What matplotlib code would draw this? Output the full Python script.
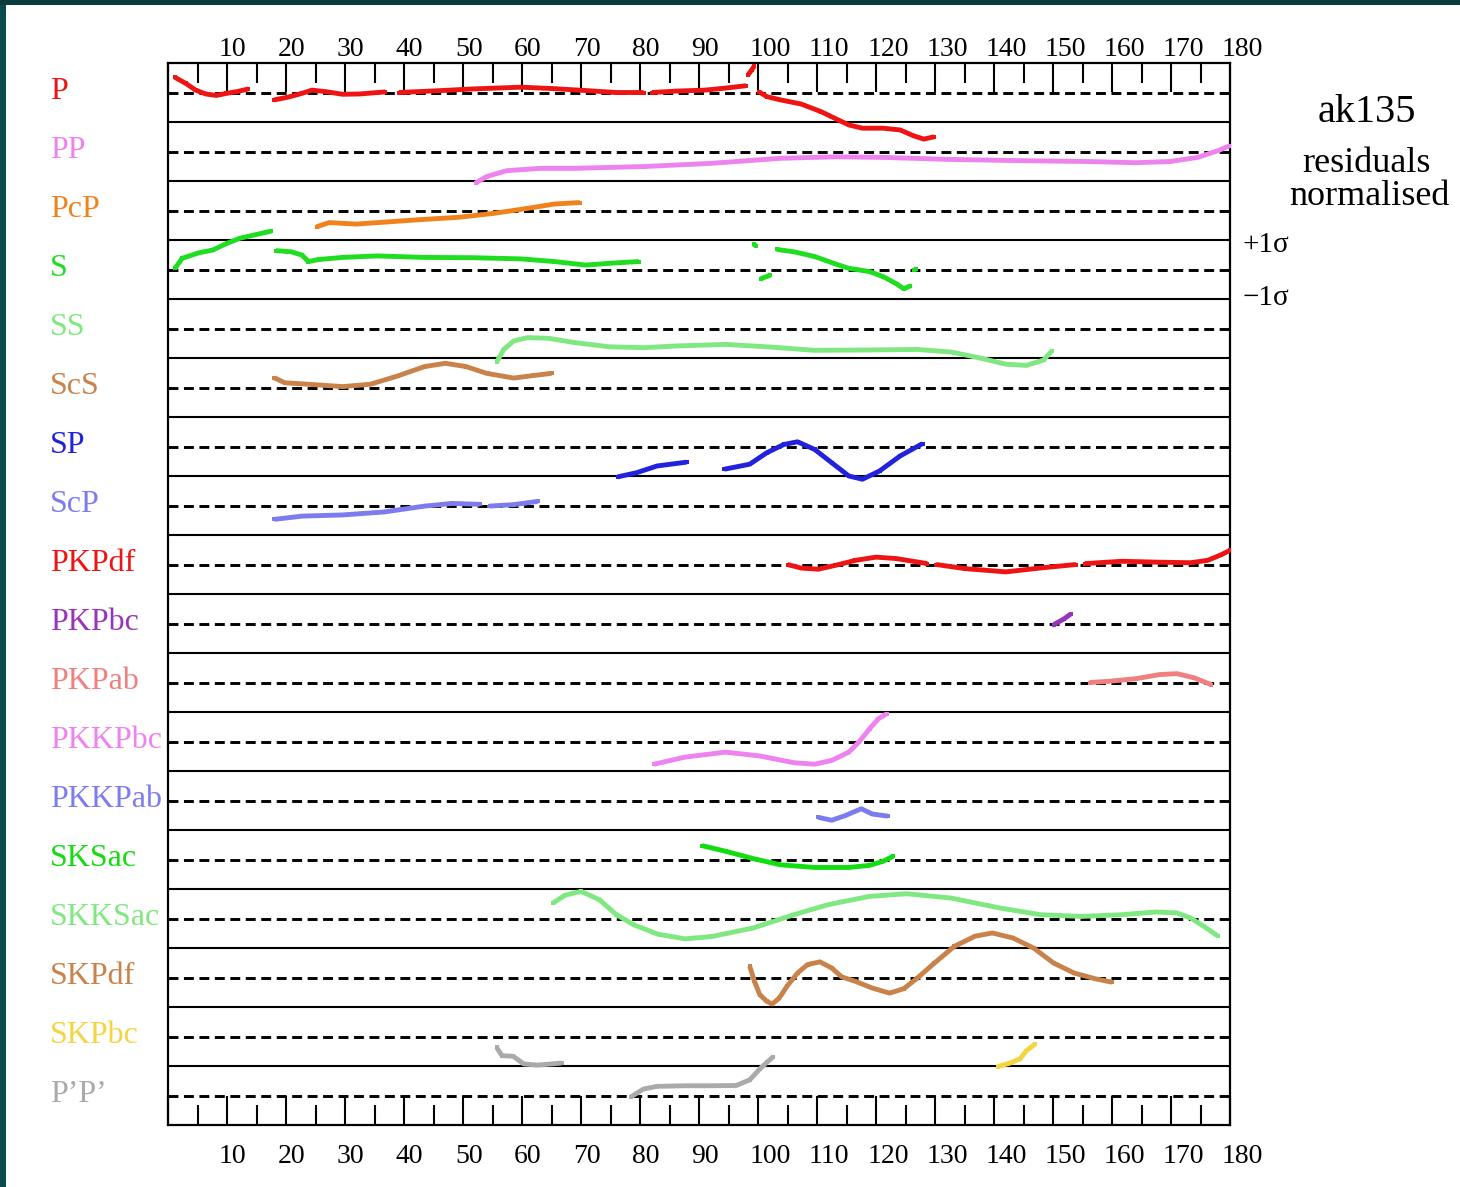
import numpy as np
import matplotlib
matplotlib.use("Agg")
import matplotlib.pyplot as plt
from matplotlib import transforms
from matplotlib.ticker import MultipleLocator, NullFormatter
from matplotlib.patches import Rectangle

nan = np.nan

phases = ["P", "PP", "PcP", "S", "SS", "ScS", "SP", "ScP", "PKPdf", "PKPbc",
          "PKPab", "PKKPbc", "PKKPab", "SKSac", "SKKSac", "SKPdf", "SKPbc", "P’P’"]
phase_colors = ["#ee1414", "#ee82ee", "#f0821e", "#1fdd1f", "#80e880", "#c8824a",
                "#2222dd", "#7c7cee", "#ee1414", "#9933bb", "#f08080", "#ee82ee",
                "#7c7cee", "#11dd11", "#80e880", "#c8824a", "#f5d442", "#aaaaaa"]

# Epicentral distance (deg) and normalised travel-time residual (sigma); nan splits branches
p_dist = [1.2, 3.0, 4.7, 6.4, 8.2, 9.9, 11.7, 13.6, nan,
          18.0, 20.3, 22.7, 24.4, 26.7, 29.6, 32.5, 36.8, nan,
          39.1, 45.8, 51.6, 59.8, 65.5, 71.3, 76.0, 80.6, nan,
          82.0, 86.4, 91.0, 94.5, 98.0, nan,
          98.3, 98.9, 99.4, nan,
          100.1, 101.5, 103.8, 107.3, 110.7, 113.6, 115.4, 117.7, 121.2, 124.1, 126.4, 128.1, 129.9]
p_res = [0.51, 0.31, 0.08, -0.05, -0.10, -0.03, 0.03, 0.12, nan,
         -0.25, -0.16, -0.03, 0.08, 0.03, -0.06, -0.05, 0.02, nan,
         0.0, 0.06, 0.12, 0.18, 0.13, 0.06, 0.0, 0.0, nan,
         0.0, 0.05, 0.08, 0.15, 0.23, nan,
         0.59, 0.76, 0.90, nan,
         0.03, -0.14, -0.25, -0.39, -0.65, -0.93, -1.10, -1.21, -1.21, -1.27, -1.47, -1.58, -1.50]

pp_dist = [52.2, 54.0, 57.4, 63.2, 69.0, 80.6, 92.2, 103.8, 113.1, 121.2, 132.8, 144.4,
           155.9, 164.0, 169.8, 174.5, 178.0, 180.0]
pp_res = [-1.06, -0.85, -0.65, -0.57, -0.57, -0.51, -0.40, -0.23, -0.18, -0.20, -0.27, -0.31,
          -0.34, -0.38, -0.34, -0.20, 0.03, 0.20]

pcp_dist = [25.2, 27.3, 31.9, 37.7, 43.5, 49.3, 55.1, 60.9, 65.5, 69.8]
pcp_res = [-0.55, -0.41, -0.46, -0.38, -0.30, -0.23, -0.10, 0.07, 0.22, 0.27]

s_dist = [1.2, 2.4, 5.3, 7.6, 9.9, 12.2, 14.6, 17.5, nan,
          18.3, 20.9, 22.7, 23.8, 25.6, 29.6, 35.4, 43.5, 51.6, 59.8, 65.5, 70.8, 74.8, 79.8, nan,
          99.3, 99.6, nan,
          100.5, 102.1, nan,
          103.2, 106.1, 109.6, 113.1, 115.4, 118.9, 121.2, 123.5, 124.7, 125.8, nan,
          126.5, 126.8]
s_res = [0.04, 0.38, 0.57, 0.66, 0.88, 1.06, 1.17, 1.30, nan,
         0.64, 0.60, 0.49, 0.27, 0.34, 0.41, 0.46, 0.41, 0.40, 0.36, 0.27, 0.15, 0.21, 0.27, nan,
         0.85, 0.81, nan,
         -0.31, -0.19, nan,
         0.68, 0.60, 0.44, 0.19, 0.04, -0.07, -0.24, -0.49, -0.65, -0.56, nan,
         -0.02, 0.02]

ss_dist = [55.7, 56.9, 58.6, 60.9, 64.4, 69.0, 74.8, 80.6, 86.4, 94.5, 101.5, 109.6, 117.7,
           127.0, 132.8, 137.4, 142.0, 145.5, 148.4, 149.8]
ss_res = [-1.14, -0.71, -0.42, -0.31, -0.33, -0.48, -0.62, -0.65, -0.59, -0.54, -0.62, -0.74,
          -0.73, -0.71, -0.80, -0.99, -1.21, -1.25, -1.07, -0.76]

scs_dist = [18.0, 19.8, 23.8, 29.6, 34.3, 38.9, 43.5, 47.0, 50.5, 54.0, 58.6, 62.1, 65.0]
scs_res = [0.33, 0.16, 0.11, 0.03, 0.11, 0.39, 0.71, 0.82, 0.71, 0.48, 0.32, 0.41, 0.48]

sp_dist = [76.2, 79.4, 82.9, 87.9, nan,
           94.3, 98.6, 101.5, 104.4, 106.7, 109.6, 112.5, 115.4, 117.7, 120.6, 124.1, 127.9]
sp_res = [-1.03, -0.89, -0.66, -0.53, nan,
          -0.77, -0.60, -0.21, 0.07, 0.16, -0.10, -0.55, -1.00, -1.11, -0.83, -0.32, 0.10]

scp_dist = [18.0, 22.7, 29.6, 36.6, 43.5, 48.2, 52.8, nan, 54.5, 58.6, 62.7]
scp_res = [-0.47, -0.36, -0.32, -0.22, -0.02, 0.07, 0.04, nan, -0.02, 0.03, 0.14]

pkpdf_dist = [105.0, 107.3, 110.2, 113.1, 116.5, 120.0, 123.5, 128.7, nan,
              130.2, 135.1, 142.0, 147.8, 153.9, nan,
              155.4, 161.7, 167.5, 173.3, 176.2, 178.5, 180.0]
pkpdf_res = [0.0, -0.12, -0.16, -0.03, 0.14, 0.25, 0.20, 0.03, nan,
             0.0, -0.14, -0.25, -0.12, 0.0, nan,
             0.03, 0.11, 0.08, 0.06, 0.14, 0.33, 0.48]

pkpbc_dist = [150.1, 151.9, 153.0]
pkpbc_res = [-0.04, 0.16, 0.32]

pkpab_dist = [156.2, 159.4, 164.1, 168.1, 171.0, 173.9, 176.8]
pkpab_res = [0.0, 0.04, 0.13, 0.27, 0.30, 0.16, -0.07]

pkkpbc_dist = [82.4, 87.6, 94.5, 100.3, 106.1, 109.6, 112.5, 115.4, 117.1, 118.9, 120.4, 121.8]
pkkpbc_res = [-0.77, -0.53, -0.36, -0.49, -0.72, -0.77, -0.64, -0.36, -0.02, 0.43, 0.77, 0.94]

pkkpab_dist = [110.2, 112.5, 114.8, 117.5, 119.4, 122.0]
pkkpab_res = [-0.57, -0.67, -0.51, -0.28, -0.46, -0.53]

sksac_dist = [90.5, 94.5, 99.2, 103.8, 109.6, 115.4, 118.9, 121.2, 122.9]
sksac_res = [0.47, 0.28, 0.03, -0.18, -0.27, -0.27, -0.20, -0.06, 0.11]

skksac_dist = [65.3, 67.3, 70.0, 73.1, 76.0, 78.9, 83.0, 87.6, 92.2, 99.2, 106.1, 111.9,
               118.9, 125.2, 132.8, 140.9, 147.8, 154.8, 161.7, 167.5, 171.0, 173.3, 175.6, 178.0]
skksac_res = [0.53, 0.79, 0.92, 0.64, 0.13, -0.21, -0.53, -0.69, -0.61, -0.32, 0.13, 0.47,
              0.75, 0.84, 0.69, 0.36, 0.13, 0.07, 0.13, 0.22, 0.19, 0.02, -0.27, -0.60]

skpdf_dist = [98.6, 99.4, 100.3, 101.5, 102.4, 103.6, 104.9, 106.7, 108.4, 110.5, 112.5,
              114.2, 116.5, 119.4, 122.3, 124.7, 127.0, 129.9, 133.3, 136.8, 139.7, 143.2,
              146.7, 150.1, 153.6, 157.1, 160.0]
skpdf_res = [0.38, -0.13, -0.58, -0.81, -0.90, -0.70, -0.30, 0.15, 0.44, 0.53, 0.32,
             0.02, -0.13, -0.36, -0.53, -0.38, -0.02, 0.49, 1.06, 1.40, 1.51, 1.34,
             1.00, 0.49, 0.15, -0.04, -0.16]

skpbc_dist = [140.6, 142.6, 144.4, 145.5, 147.0]
skpbc_res = [-1.02, -0.91, -0.76, -0.48, -0.25]

pprime_dist = [55.7, 56.6, 58.5, 60.3, 62.6, 65.0, 66.7, nan,
               78.5, 80.6, 82.9, 87.6, 92.2, 96.3, 98.6, 100.3, 101.5, 102.6]
pprime_res = [1.63, 1.35, 1.33, 1.07, 1.03, 1.07, 1.10, nan,
              -0.04, 0.22, 0.31, 0.33, 0.33, 0.34, 0.53, 0.90, 1.12, 1.32]

curves = [(p_dist, p_res), (pp_dist, pp_res), (pcp_dist, pcp_res), (s_dist, s_res),
          (ss_dist, ss_res), (scs_dist, scs_res), (sp_dist, sp_res), (scp_dist, scp_res),
          (pkpdf_dist, pkpdf_res), (pkpbc_dist, pkpbc_res), (pkpab_dist, pkpab_res),
          (pkkpbc_dist, pkkpbc_res), (pkkpab_dist, pkkpab_res), (sksac_dist, sksac_res),
          (skksac_dist, skksac_res), (skpdf_dist, skpdf_res), (skpbc_dist, skpbc_res),
          (pprime_dist, pprime_res)]

distance_ticks = list(range(10, 181, 10))

SERIF = ["Liberation Serif", "DejaVu Serif"]
W, H = 1460, 1187
fig = plt.figure(figsize=(W / 100, H / 100), dpi=100, facecolor="white")

# dark frame along the left and top edges
fig.patches.append(Rectangle((0, 0), 6 / W, 1, transform=fig.transFigure,
                             facecolor="#0b4b4b", edgecolor="none", zorder=0))
fig.patches.append(Rectangle((0, 1 - 5 / H), 1, 5 / H, transform=fig.transFigure,
                             facecolor="#0b3c3c", edgecolor="none", zorder=0))

left, right, top, bottom = 168, 1230, 63, 1125
ax = fig.add_axes([left / W, 1 - bottom / H, (right - left) / W, (bottom - top) / H])
n = len(phases)
ax.set_xlim(0, 180)
ax.set_ylim(-2 * (n - 1) - 1, 1)

# zero lines (dashed) and ±1 sigma row separators (solid)
for i in range(n):
    ax.axhline(-2 * i, color="black", lw=2.1, dashes=(3.4, 1.9), zorder=1)
    if i < n - 1:
        ax.axhline(-2 * i - 1, color="black", lw=1.5, zorder=1)

for i, ((d, r), col) in enumerate(zip(curves, phase_colors)):
    d = np.asarray(d, dtype=float)
    r = np.asarray(r, dtype=float)
    ax.plot(d, r - 2 * i, color=col, lw=3.5, solid_capstyle="butt",
            solid_joinstyle="round", marker="s", markersize=3.4, markeredgewidth=0,
            zorder=3)

for sp in ax.spines.values():
    sp.set_linewidth(1.6)

ax.xaxis.set_major_locator(MultipleLocator(10))
ax.xaxis.set_minor_locator(MultipleLocator(5))
ax.xaxis.set_major_formatter(NullFormatter())
ax.set_yticks([])
ax.tick_params(axis="x", which="major", direction="in", top=True, bottom=True,
               length=21, width=1.5)
ax.tick_params(axis="x", which="minor", direction="in", top=True, bottom=True,
               length=14.5, width=1.5)

# distance labels, left-aligned just before each tick
shift = transforms.ScaledTranslation(-8 / 100, 0, fig.dpi_scale_trans)
xa = transforms.blended_transform_factory(ax.transData, ax.transAxes) + shift
for t in distance_ticks:
    ax.text(t, 1 + 7 / (bottom - top), str(t), transform=xa, ha="left", va="baseline",
            fontsize=20, family=SERIF, clip_on=False)
    ax.text(t, -38 / (bottom - top), str(t), transform=xa, ha="left", va="baseline",
            fontsize=20, family=SERIF, clip_on=False)

# phase names
lab_tr = transforms.blended_transform_factory(fig.transFigure, ax.transData)
for i, (name, col) in enumerate(zip(phases, phase_colors)):
    fig.text(50 / W, -2 * i - 0.22, name, transform=lab_tr, color=col, fontsize=23,
             family=SERIF, ha="left", va="baseline")

fig.text(1367 / W, 1 - 122 / H, "ak135", fontsize=29, family=SERIF, ha="center", va="baseline")
fig.text(1366 / W, 1 - 172 / H, "residuals", fontsize=26, family=SERIF, ha="center", va="baseline")
fig.text(1369 / W, 1 - 205 / H, "normalised", fontsize=26, family=SERIF, ha="center", va="baseline")
fig.text(1243 / W, 1 - 252 / H, "+1σ", fontsize=21, family=SERIF, ha="left", va="baseline")
fig.text(1243 / W, 1 - 305 / H, "−1σ", fontsize=21, family=SERIF, ha="left", va="baseline")

fig.savefig("out.png", dpi=100, facecolor=fig.get_facecolor())
